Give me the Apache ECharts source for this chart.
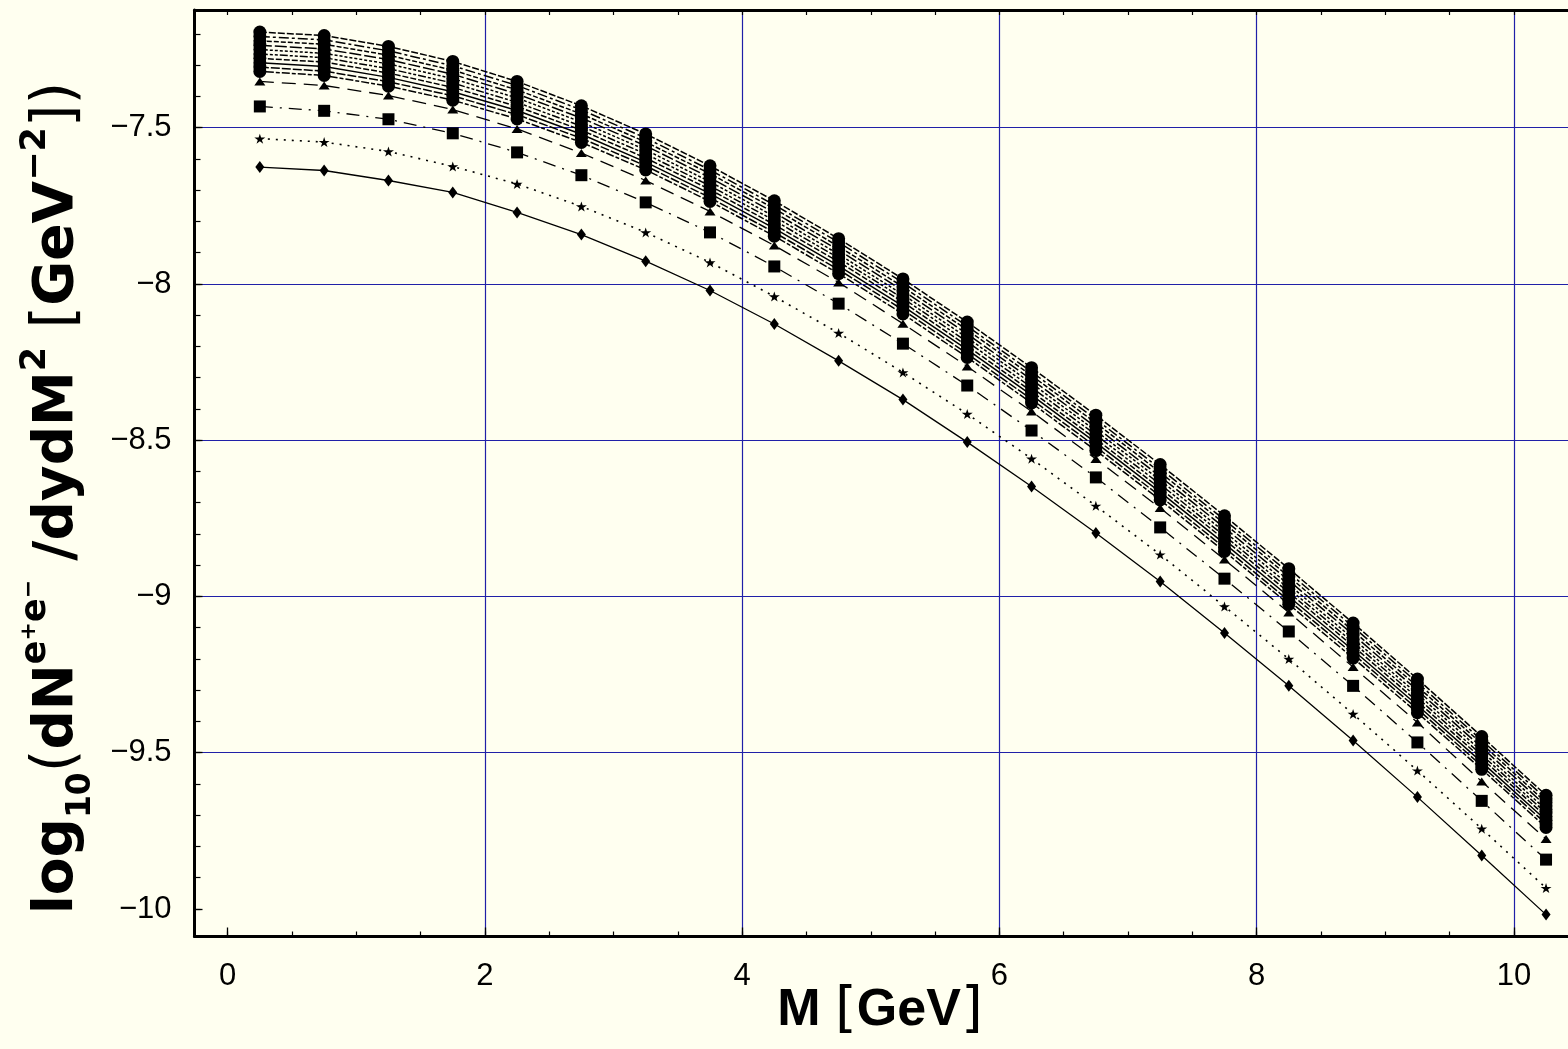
<!DOCTYPE html>
<html>
<head>
<meta charset="utf-8">
<script src="https://cdn.jsdelivr.net/npm/echarts@6/dist/echarts.min.js"></script>
<style>
html,body{margin:0;padding:0;background:#fffff0;}
#chart{width:1568px;height:1049px;}
</style>
</head>
<body>
<div id="chart"></div>
<script>
// ---- data ----
const M = [0.25,0.75,1.25,1.75,2.25,2.75,3.25,3.75,4.25,4.75,5.25,5.75,6.25,6.75,7.25,7.75,8.25,8.75,9.25,9.75,10.25];

const circle1  = [-7.194,-7.205,-7.240,-7.288,-7.352,-7.430,-7.520,-7.622,-7.734,-7.855,-7.984,-8.122,-8.268,-8.420,-8.578,-8.742,-8.911,-9.085,-9.264,-9.448,-9.636];
const circle2  = [-7.208,-7.219,-7.254,-7.302,-7.365,-7.443,-7.533,-7.635,-7.747,-7.867,-7.996,-8.135,-8.281,-8.433,-8.591,-8.755,-8.924,-9.097,-9.276,-9.460,-9.647];
const circle3  = [-7.222,-7.233,-7.268,-7.316,-7.379,-7.456,-7.546,-7.647,-7.759,-7.880,-8.009,-8.147,-8.293,-8.445,-8.603,-8.767,-8.936,-9.110,-9.288,-9.471,-9.659];
const circle4  = [-7.236,-7.248,-7.282,-7.329,-7.392,-7.469,-7.558,-7.660,-7.772,-7.892,-8.021,-8.160,-8.306,-8.458,-8.616,-8.780,-8.949,-9.122,-9.300,-9.483,-9.670];
const circle5  = [-7.250,-7.262,-7.296,-7.343,-7.405,-7.482,-7.571,-7.673,-7.784,-7.905,-8.034,-8.172,-8.318,-8.470,-8.628,-8.793,-8.962,-9.135,-9.312,-9.495,-9.682];
const circle6  = [-7.264,-7.276,-7.311,-7.357,-7.419,-7.495,-7.584,-7.686,-7.797,-7.917,-8.046,-8.185,-8.331,-8.483,-8.641,-8.806,-8.975,-9.147,-9.324,-9.507,-9.693];
const circle7  = [-7.278,-7.290,-7.325,-7.371,-7.432,-7.508,-7.597,-7.698,-7.810,-7.929,-8.058,-8.198,-8.344,-8.496,-8.654,-8.818,-8.987,-9.159,-9.336,-9.518,-9.704];
const circle8  = [-7.292,-7.304,-7.339,-7.385,-7.445,-7.521,-7.610,-7.711,-7.822,-7.942,-8.071,-8.210,-8.356,-8.508,-8.666,-8.831,-9.000,-9.172,-9.348,-9.530,-9.716];
const circle9  = [-7.306,-7.319,-7.353,-7.398,-7.458,-7.534,-7.622,-7.724,-7.835,-7.954,-8.083,-8.223,-8.369,-8.521,-8.679,-8.844,-9.013,-9.184,-9.360,-9.542,-9.727];
const circle10 = [-7.320,-7.333,-7.367,-7.412,-7.472,-7.547,-7.635,-7.736,-7.847,-7.967,-8.096,-8.235,-8.381,-8.533,-8.691,-8.856,-9.025,-9.197,-9.372,-9.553,-9.739];
const triangleS = [-7.352,-7.365,-7.397,-7.442,-7.504,-7.581,-7.669,-7.768,-7.877,-7.995,-8.127,-8.264,-8.408,-8.560,-8.717,-8.882,-9.051,-9.226,-9.403,-9.592,-9.776];
const squareS   = [-7.432,-7.446,-7.473,-7.518,-7.579,-7.652,-7.739,-7.835,-7.944,-8.063,-8.191,-8.325,-8.469,-8.619,-8.779,-8.943,-9.112,-9.286,-9.467,-9.654,-9.842];
const starS     = [-7.535,-7.546,-7.576,-7.624,-7.680,-7.752,-7.835,-7.931,-8.040,-8.157,-8.283,-8.416,-8.559,-8.710,-8.866,-9.032,-9.200,-9.376,-9.557,-9.743,-9.933];
const diamondS  = [-7.626,-7.637,-7.669,-7.707,-7.771,-7.842,-7.927,-8.021,-8.128,-8.246,-8.370,-8.506,-8.648,-8.797,-8.952,-9.117,-9.286,-9.461,-9.642,-9.829,-10.018];

// ---- tick labels / tick positions ----
const xLabelValues = [0,2,4,6,8,10];
const xMinorTicks = [0,0.5,1,1.5,2,2.5,3,3.5,4,4.5,5,5.5,6,6.5,7,7.5,8,8.5,9,9.5,10,10.5];
const xGridValues = [2,4,6,8,10];
const yLabelValues = [-10,-9.5,-9,-8.5,-8,-7.5];
const yMinorTicks = [-10,-9.9,-9.8,-9.7,-9.6,-9.5,-9.4,-9.3,-9.2,-9.1,-9,-8.9,-8.8,-8.7,-8.6,-8.5,-8.4,-8.3,-8.2,-8.1,-8,-7.9,-7.8,-7.7,-7.6,-7.5,-7.4,-7.3,-7.2];
const yGridValues = [-9.5,-9,-8.5,-8,-7.5];

const X_MIN = -0.258, X_MAX = 11;
const Y_MIN = -10.088, Y_MAX = -7.1234;

const circleSeries = [circle1,circle2,circle3,circle4,circle5,circle6,circle7,circle8,circle9,circle10];
const circleDash = [[7,2],[10,3,3,3],[5,2],[12,3],[3,2],[8,2,3,2,3,2],[6,2],'solid',[9,2],[4,2,8,2]];

const starPath = 'path://M50,0 L61,35 L98,35 L68,57 L79,91 L50,70 L21,91 L32,57 L2,35 L39,35 Z';

function pts(ys){ return M.map((x,i)=>[x, ys[i]]); }
function fmt(v){ return String(v).replace('-', '\u2212'); }

const series = [];
circleSeries.forEach((ys,k)=>{
  series.push({
    name:'c'+(k+1), type:'line', data:pts(ys), xAxisIndex:0, yAxisIndex:0,
    symbol:'circle', symbolSize:13, showAllSymbol:true,
    lineStyle:{color:'#000', width:1.5, type:circleDash[k]},
    itemStyle:{color:'#000'}, z:5
  });
});
series.push({name:'triangle', type:'line', data:pts(triangleS), symbol:'triangle', symbolSize:[11,8], showAllSymbol:true,
  lineStyle:{color:'#000', width:1.3, type:[14,8]}, itemStyle:{color:'#000'}, z:4});
series.push({name:'square', type:'line', data:pts(squareS), symbol:'rect', symbolSize:12, showAllSymbol:true,
  lineStyle:{color:'#000', width:1.3, type:[13,7,2,7]}, itemStyle:{color:'#000'}, z:4});
series.push({name:'star', type:'line', data:pts(starS), symbol:starPath, symbolSize:[11,10], showAllSymbol:true,
  lineStyle:{color:'#000', width:1.6, type:[2,6]}, itemStyle:{color:'#000'}, z:4});
series.push({name:'diamond', type:'line', data:pts(diamondS), symbol:'diamond', symbolSize:[9,12], showAllSymbol:true,
  lineStyle:{color:'#000', width:1.3, type:'solid'}, itemStyle:{color:'#000'}, z:4});

const labelFont = {color:'#000', fontFamily:'Liberation Sans', fontSize:31};
function xAx(extra){ return Object.assign({type:'value', min:X_MIN, max:X_MAX, position:'bottom',
  axisLine:{show:false, onZero:false}, axisTick:{show:false}, axisLabel:{show:false}, splitLine:{show:false}}, extra); }
function yAx(extra){ return Object.assign({type:'value', min:Y_MIN, max:Y_MAX, position:'left',
  axisLine:{show:false, onZero:false}, axisTick:{show:false}, axisLabel:{show:false}, splitLine:{show:false}}, extra); }

const gridColor = '#2020a8';
const chart = echarts.init(document.getElementById('chart'), null, {renderer:'canvas'});
chart.setOption({
  backgroundColor:'#fffff0',
  animation:false,
  grid:{left:194.5, top:10, width:1448, height:926.5, outerBoundsMode:'none', containLabel:false},
  xAxis:[
    xAx({axisLine:{show:true, onZero:false, lineStyle:{color:'#000', width:3}},
         axisTick:{show:true, inside:true, length:9, customValues:xLabelValues, lineStyle:{color:'#000', width:1.3}},
         axisLabel:Object.assign({show:true, margin:24, customValues:xLabelValues, formatter:fmt}, labelFont)}),
    xAx({axisTick:{show:true, inside:true, length:5, customValues:xMinorTicks, lineStyle:{color:'#000', width:1.2}}}),
    xAx({position:'top', axisLine:{show:true, onZero:false, lineStyle:{color:'#000', width:3}},
         axisTick:{show:true, inside:true, length:5, customValues:xMinorTicks, lineStyle:{color:'#000', width:1.2}}}),
    xAx({axisTick:{show:false, customValues:xGridValues}, splitLine:{show:true, lineStyle:{color:gridColor, width:1.2}}})
  ],
  yAxis:[
    yAx({axisLine:{show:true, onZero:false, lineStyle:{color:'#000', width:3}},
         axisTick:{show:true, inside:true, length:8, customValues:yLabelValues, lineStyle:{color:'#000', width:1.3}},
         axisLabel:Object.assign({show:true, margin:23, customValues:yLabelValues, formatter:fmt}, labelFont)}),
    yAx({axisTick:{show:true, inside:true, length:6, customValues:yMinorTicks, lineStyle:{color:'#000', width:1.2}}}),
    yAx({axisTick:{show:false, customValues:yGridValues}, splitLine:{show:true, lineStyle:{color:gridColor, width:1.2}}})
  ],
  graphic:[
    {type:'text', x:58, y:498, rotation:Math.PI/2, z:100,
     style:{
       text:'{b|log}{sub|10}{t|(}{b|dN}{sup|e}{sup2|+}{sup|e}{sup2|\u2212}{b| /dydM}{sup|2}{t| [}{b|GeV}{sup|\u22122}{t|])}',
       align:'center', verticalAlign:'middle', fill:'#000',
       rich:{
         b:{fontFamily:'DejaVu Sans', fontWeight:'bold', fontSize:55, lineHeight:80, verticalAlign:'middle', fill:'#000'},
         t:{fontFamily:'DejaVu Sans', fontWeight:'normal', fontSize:58, lineHeight:80, verticalAlign:'middle', fill:'#000'},
         sub:{fontFamily:'DejaVu Sans', fontWeight:'bold', fontSize:33, lineHeight:52, verticalAlign:'bottom', fill:'#000'},
         sup:{fontFamily:'DejaVu Sans', fontWeight:'bold', fontSize:35, lineHeight:61, verticalAlign:'top', fill:'#000'},
         sup2:{fontFamily:'DejaVu Sans', fontWeight:'bold', fontSize:22, lineHeight:32, verticalAlign:'top', fill:'#000'}
       }
     }},
    {type:'text', x:880, y:1011, z:100,
     style:{
       text:'{b|M }{t|[}{b|GeV}{t|]}',
       align:'center', verticalAlign:'middle', fill:'#000',
       rich:{
         b:{fontFamily:'Liberation Sans', fontWeight:'bold', fontSize:52, lineHeight:60, fill:'#000'},
         t:{fontFamily:'DejaVu Sans', fontWeight:'normal', fontSize:56, lineHeight:60, fill:'#000'}
       }
     }}
  ],
  series: series
});
</script>
</body>
</html>
